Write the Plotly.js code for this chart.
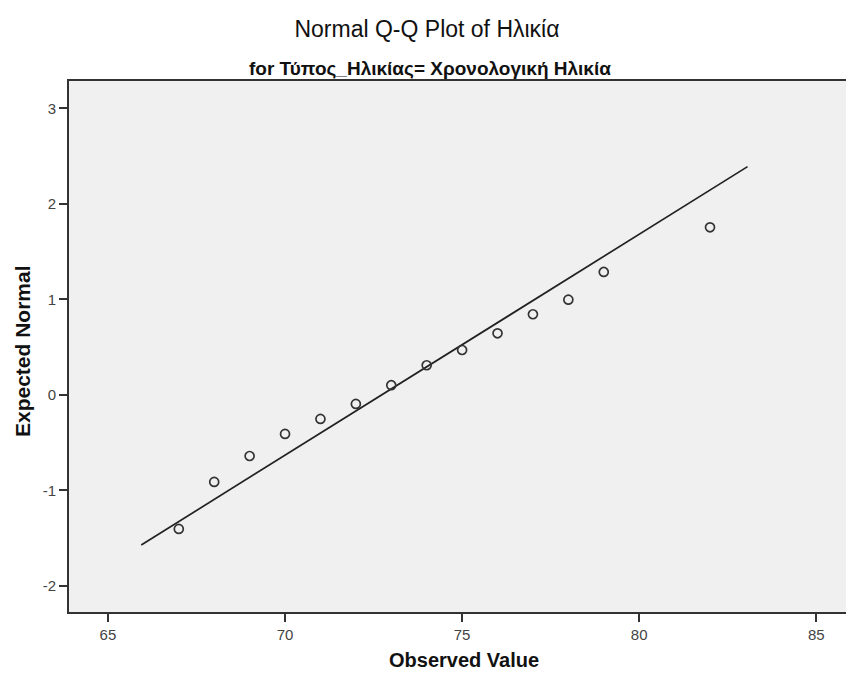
<!DOCTYPE html>
<html>
<head>
<meta charset="utf-8">
<script src="https://cdn.plot.ly/plotly-3.0.1.min.js"></script>
<style>html,body{margin:0;padding:0;background:#fff;}#chart{width:846px;height:673px;}</style>
</head>
<body>
<div id="chart"></div>
<script>
const observed = [67, 68, 69, 70, 71, 72, 73, 74, 75, 76, 77, 78, 79, 82];
const expected = [-1.405, -0.913, -0.641, -0.41, -0.253, -0.096, 0.10, 0.309, 0.469, 0.644, 0.843, 0.996, 1.286, 1.754];
const lineX = [65.94, 83.06];
const lineY = [-1.573, 2.389];
const xTicks = [65, 70, 75, 80, 85];
const yTicks = [-2, -1, 0, 1, 2, 3];

const font = "Arial, 'Liberation Sans', sans-serif";
const narrow = "'Liberation Sans Narrow', 'Arial Narrow', 'Liberation Sans', Arial, sans-serif";

const traces = [
  {x: lineX, y: lineY, mode: 'lines', type: 'scatter',
   line: {color: '#222', width: 1.7}, hoverinfo: 'skip'},
  {x: observed, y: expected, mode: 'markers', type: 'scatter',
   marker: {symbol: 'circle-open', size: 9, color: '#333', line: {width: 1.7, color: '#333'}}}
];

const layout = {
  width: 846, height: 673,
  margin: {l: 69, r: 0, t: 81, b: 61},
  paper_bgcolor: '#ffffff',
  plot_bgcolor: '#f0f0f0',
  showlegend: false,
  font: {family: font, color: '#333'},
  title: {text: 'Normal Q-Q Plot of Ηλικία', x: 427/846, xanchor: 'center', y: 1 - 29/673, yanchor: 'middle',
          font: {family: font, size: 23, color: '#111'}},
  annotations: [
    {text: '<b>for Τύπος_Ηλικίας= Χρονολογική Ηλικία</b>', xref: 'paper', yref: 'paper',
     x: (430 - 69) / 777, y: 1, yshift: 13, xanchor: 'center', yanchor: 'middle', showarrow: false,
     font: {family: narrow, size: 19, color: '#111'}},
    {text: '<b>Observed Value</b>', xref: 'paper', yref: 'paper',
     x: (464 - 69) / 777, y: 0, yshift: -48, xanchor: 'center', yanchor: 'middle', showarrow: false,
     font: {family: font, size: 20, color: '#111'}},
    {text: '<b>Expected Normal</b>', xref: 'paper', yref: 'paper', textangle: -90,
     x: (22 - 69) / 777, y: (612 - 351) / 531, xanchor: 'center', yanchor: 'middle', showarrow: false,
     font: {family: font, size: 21, color: '#111'}}
  ],
  xaxis: {
    range: [63.9, 85.84], tickvals: xTicks, ticktext: xTicks.map(String),
    showgrid: false, zeroline: false, showline: true, linecolor: '#333', linewidth: 1.8,
    mirror: true, ticks: 'outside', ticklen: 8, tickcolor: '#333', tickwidth: 1.8,
    tickfont: {family: font, size: 15, color: '#444'}
  },
  yaxis: {
    range: [-2.275, 3.286], tickvals: yTicks, ticktext: yTicks.map(String),
    showgrid: false, zeroline: false, showline: true, linecolor: '#333', linewidth: 1.8,
    ticks: 'outside', ticklen: 8, tickcolor: '#333', tickwidth: 1.8,
    tickfont: {family: font, size: 15, color: '#444'}
  }
};

Plotly.newPlot('chart', traces, layout, {displayModeBar: false, staticPlot: true});
</script>
</body>
</html>
